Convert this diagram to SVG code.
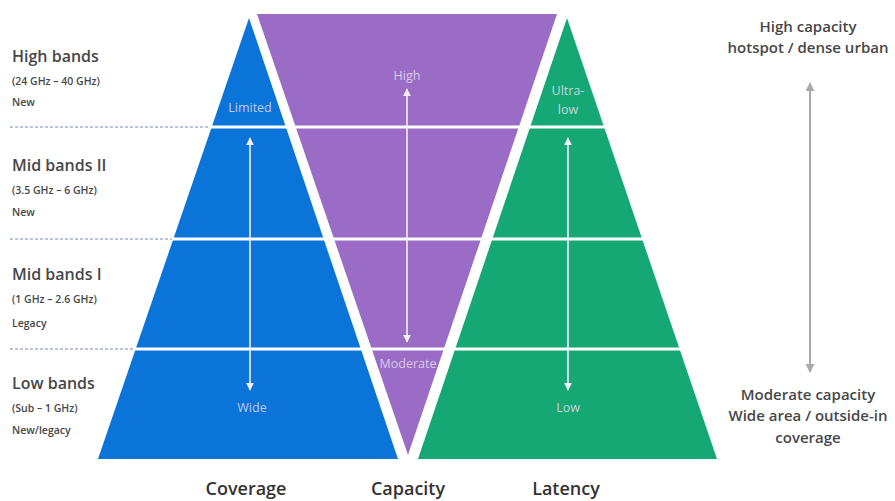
<svg xmlns="http://www.w3.org/2000/svg" width="895" height="501" viewBox="0 0 895 501">
<defs>
<style>
.lbl{font-family:"Open Sans","Liberation Sans",sans-serif;fill:#474747}
.big{font-size:16px;font-weight:600}
.sm{font-size:10.5px;font-weight:600}
.in{font-family:"Open Sans","Liberation Sans",sans-serif;font-size:12.5px;fill:#e6dcf2;fill-opacity:0.85;text-anchor:middle}
.bot{font-family:"Open Sans","Liberation Sans",sans-serif;font-size:18px;font-weight:600;fill:#333;text-anchor:middle}
.rt{font-family:"Open Sans","Liberation Sans",sans-serif;font-size:15px;font-weight:600;fill:#474747;text-anchor:middle}
.dash{stroke:#7088c0;stroke-width:1;stroke-dasharray:3 2}
.sep{stroke:#fff;stroke-width:3}
.warr{stroke:#f3eefa;stroke-width:1.6;fill:none}
.garr{stroke:#a9a9a9;stroke-width:2;fill:none}
</style>
<marker id="wh" viewBox="0 0 10 10" refX="9" refY="5" markerWidth="5" markerHeight="5" orient="auto-start-reverse">
<path d="M0,0 L10,5 L0,10 z" fill="#f3eefa"/>
</marker>
<marker id="gh" viewBox="0 0 10 10" refX="9" refY="5" markerWidth="4.5" markerHeight="4.5" orient="auto-start-reverse">
<path d="M0,0 L10,5 L0,10 z" fill="#a9a9a9"/>
</marker>
</defs>
<rect width="895" height="501" fill="#fff"/>
<g id="coverage">
<polygon points="249,18 98,459 398,459" fill="#0a74d8"/>
</g>
<g id="capacity">
<polygon points="257,14 557,14 408,455" fill="#9b6cc6"/>
</g>
<g id="latency">
<polygon points="567,18 418,459 717,459" fill="#16a874"/>
</g>
<g id="separators">
<line class="sep" x1="90" y1="127" x2="730" y2="127"/>
<line class="sep" x1="90" y1="239" x2="730" y2="239"/>
<line class="sep" x1="90" y1="349" x2="730" y2="349"/>
<line class="dash" x1="10" y1="127" x2="210" y2="127"/>
<line class="dash" x1="10" y1="239" x2="172" y2="239"/>
<line class="dash" x1="10" y1="349" x2="134" y2="349"/>
</g>
<g id="connectors">
<line class="warr" x1="250" y1="138" x2="250" y2="390" marker-start="url(#wh)" marker-end="url(#wh)"/>
<line class="warr" x1="407" y1="89" x2="407" y2="342" marker-start="url(#wh)" marker-end="url(#wh)"/>
<line class="warr" x1="568" y1="138" x2="568" y2="390" marker-start="url(#wh)" marker-end="url(#wh)"/>
<line class="garr" x1="810" y1="83" x2="810" y2="372" marker-start="url(#gh)" marker-end="url(#gh)"/>
</g>
<g id="inner-labels">
<text class="in" x="250" y="112">Limited</text>
<text class="in" x="252" y="412">Wide</text>
<text class="in" x="407" y="80">High</text>
<text class="in" x="408" y="368">Moderate</text>
<text class="in" x="568" y="95">Ultra-</text>
<text class="in" x="568" y="114">low</text>
<text class="in" x="568" y="412">Low</text>
</g>
<g id="band-high">
<text class="lbl big" x="12" y="62">High bands</text>
<text class="lbl sm" x="12" y="85">(24 GHz – 40 GHz)</text>
<text class="lbl sm" x="12" y="106">New</text>
</g>
<g id="band-mid2">
<text class="lbl big" x="12" y="171">Mid bands II</text>
<text class="lbl sm" x="12" y="194">(3.5 GHz – 6 GHz)</text>
<text class="lbl sm" x="12" y="216">New</text>
</g>
<g id="band-mid1">
<text class="lbl big" x="12" y="280">Mid bands I</text>
<text class="lbl sm" x="12" y="303">(1 GHz – 2.6 GHz)</text>
<text class="lbl sm" x="12" y="327">Legacy</text>
</g>
<g id="band-low">
<text class="lbl big" x="12" y="389">Low bands</text>
<text class="lbl sm" x="12" y="412">(Sub – 1 GHz)</text>
<text class="lbl sm" x="12" y="434">New/legacy</text>
</g>
<g id="bottom-labels">
<text class="bot" x="246" y="495">Coverage</text>
<text class="bot" x="408" y="495">Capacity</text>
<text class="bot" x="566" y="495">Latency</text>
</g>
<g id="right-labels">
<text class="rt" x="808" y="32">High capacity</text>
<text class="rt" x="808" y="53">hotspot / dense urban</text>
<text class="rt" x="808" y="400">Moderate capacity</text>
<text class="rt" x="808" y="421">Wide area / outside-in</text>
<text class="rt" x="808" y="443">coverage</text>
</g>
</svg>
